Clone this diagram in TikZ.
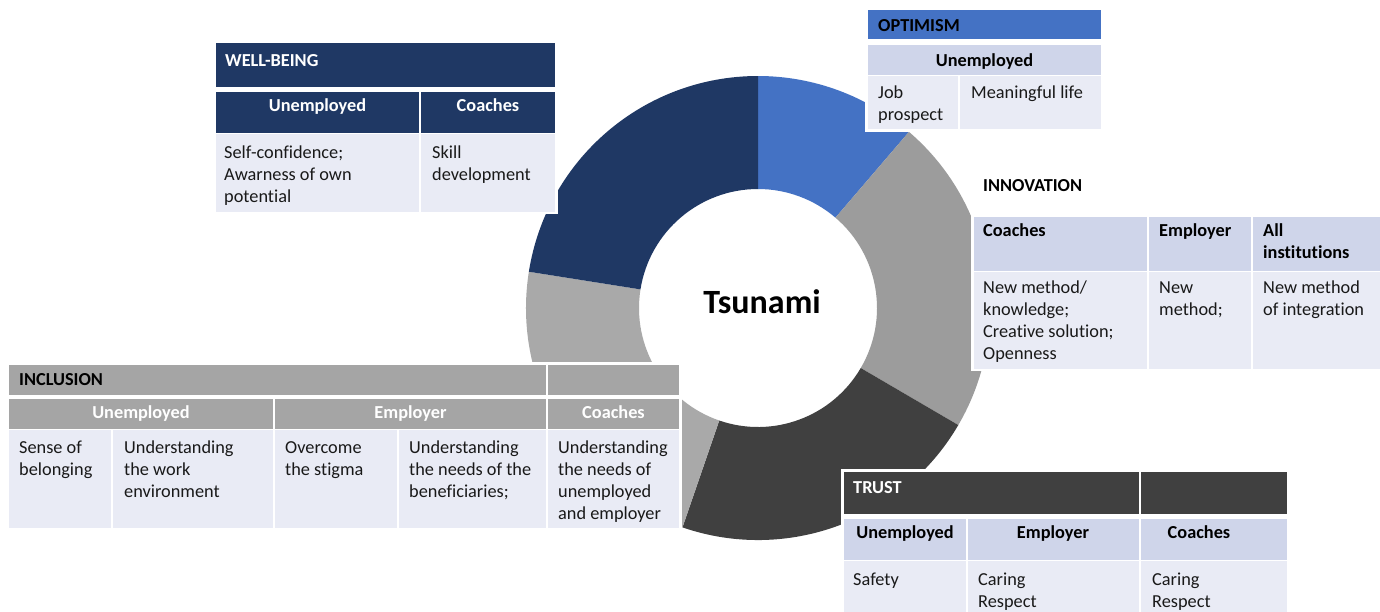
\documentclass[tikz,border=0pt]{standalone}
\usepackage{fontspec}
\setmainfont{Carlito}[Ligatures=NoCommon]
\definecolor{navy}{HTML}{1F3864}
\definecolor{optblue}{HTML}{4472C4}
\definecolor{midgray}{HTML}{9C9C9C}
\definecolor{lightgray}{HTML}{A9A9A9}
\definecolor{darkgray}{HTML}{404040}
\definecolor{incgray}{HTML}{A5A5A5}
\definecolor{hdrlight}{HTML}{CFD5EA}
\definecolor{bodylight}{HTML}{E9EBF5}
% one table cell, leaving a thin white rule around it
\newcommand{\tcell}[5]{\fill[#5] (#1+1,#2+1) rectangle (#3-1,#4-1);}
% one ring sector: start angle, end angle, colour
\newcommand{\ringpart}[3]{\fill[#3] (ctr) ++(#1:232) arc[start angle=#1,end angle=#2,radius=232] -- ++(#2:-113) arc[start angle=#2,end angle=#1,radius=119] -- cycle;}
\begin{document}
\begin{tikzpicture}[x=1pt,y=-1pt,
  every node/.style={inner sep=0pt,font=\fontsize{18.3}{22}\selectfont},
  body/.style={anchor=north west,align=left,text=black!90},
  title/.style={anchor=base west,font=\fontsize{18.3}{22}\selectfont\bfseries},
  colhead/.style={anchor=base,font=\fontsize{18.3}{22}\selectfont\bfseries},
  rowhead/.style={anchor=north west,align=left,font=\fontsize{18.3}{22}\selectfont\bfseries}]
\useasboundingbox (0,0) rectangle (1380,611);
\fill[white] (0,0) rectangle (1380,611);

% ---- ring ----
\coordinate (ctr) at (758,308);
\ringpart{-90}{-49.4}{optblue}
\ringpart{-49.4}{30.3}{midgray}
\ringpart{30.3}{109}{darkgray}
\ringpart{109}{189}{lightgray}
\ringpart{189}{270}{navy}
\node[anchor=base,font=\fontsize{34}{40}\selectfont\bfseries] (tsunami) at (762,313) {Tsunami};

% ---- WELL-BEING ----
\fill[white] (213,41) rectangle (558,214);
\tcell{215}{42}{556}{88}{navy}
\tcell{215}{91}{420}{133.5}{navy}
\tcell{420}{91}{556}{133.5}{navy}
\tcell{215}{132.5}{420}{213}{bodylight}
\tcell{420}{132.5}{556}{213}{bodylight}
\node[title,text=white] (wbT) at (225,66) {WELL-BEING};
\node[colhead,text=white] (wbU) at (317.5,111.7) {Unemployed};
\node[colhead,text=white] (wbC) at (488,111.7) {Coaches};
\node[body] (wbA) at (224,143.1) {\strut Self-confidence;\\Awarness of own\\potential};
\node[body] (wbB) at (432,143.1) {\strut Skill\\development};

% ---- OPTIMISM ----
\fill[white] (865,7) rectangle (1104,132);
\tcell{867}{9}{1102}{40}{optblue}
\tcell{867}{44}{1102}{76}{hdrlight}
\tcell{867}{75}{959}{130}{bodylight}
\tcell{959}{75}{1102}{130}{bodylight}
\node[title,text=black] (opT) at (878,31.7) {OPTIMISM};
\node[colhead,text=black] (opU) at (984.5,66) {Unemployed};
\node[body] (opA) at (878,82.9) {\strut Job\\prospect};
\node[body] (opB) at (971,82.9) {\strut Meaningful life};

% ---- INNOVATION ----
\fill[white] (971,168) rectangle (1380,371);
\tcell{973}{216}{1148}{271.5}{hdrlight}
\tcell{1148}{216}{1252}{271.5}{hdrlight}
\tcell{1252}{216}{1382}{271.5}{hdrlight}
\tcell{973}{270.5}{1148}{370}{bodylight}
\tcell{1148}{270.5}{1252}{370}{bodylight}
\tcell{1252}{270.5}{1382}{370}{bodylight}
\node[title,text=black] (inT) at (983,191.7) {INNOVATION};
\node[rowhead] (inC) at (983,221.3) {\strut Coaches};
\node[rowhead] (inE) at (1159,221.3) {\strut Employer};
\node[rowhead] (inI) at (1263,221.3) {\strut All\\institutions};
\node[body] (inA) at (983,277.9) {\strut New method/\\knowledge;\\Creative solution;\\Openness};
\node[body] (inB) at (1159,277.9) {\strut New\\method;};
\node[body] (inD) at (1263,277.9) {\strut New method\\of integration};

% ---- INCLUSION ----
\fill[white] (6,362) rectangle (682,530);
\tcell{8}{364}{547}{395.5}{incgray}
\tcell{547}{364}{680}{395.5}{incgray}
\tcell{8}{398}{274}{430}{incgray}
\tcell{274}{398}{547}{430}{incgray}
\tcell{547}{398}{680}{430}{incgray}
\tcell{8}{429}{112}{529}{bodylight}
\tcell{112}{429}{274}{529}{bodylight}
\tcell{274}{429}{398}{529}{bodylight}
\tcell{398}{429}{547}{529}{bodylight}
\tcell{547}{429}{680}{529}{bodylight}
\node[title,text=black] (icT) at (19,385) {INCLUSION};
\node[colhead,text=white] (icU) at (141,418.3) {Unemployed};
\node[colhead,text=white] (icE) at (410.5,418.3) {Employer};
\node[colhead,text=white] (icC) at (613.5,418.3) {Coaches};
\node[body] (icA) at (19,438.1) {\strut Sense of\\belonging};
\node[body] (icB) at (124,438.1) {\strut Understanding\\the work\\environment};
\node[body] (icD) at (285,438.1) {\strut Overcome\\the stigma};
\node[body] (icF) at (409,438.1) {\strut Understanding\\the needs of the\\beneficiaries;};
\node[body] (icG) at (558,438.1) {\strut Understanding\\the needs of\\unemployed\\and employer};

% ---- TRUST ----
\fill[white] (841,469) rectangle (1290,611);
\tcell{843}{471}{1140}{514.5}{darkgray}
\tcell{1140}{471}{1288}{514.5}{darkgray}
\tcell{843}{517.5}{967}{561}{hdrlight}
\tcell{967}{517.5}{1140}{561}{hdrlight}
\tcell{1140}{517.5}{1288}{561}{hdrlight}
\tcell{843}{560}{967}{613}{bodylight}
\tcell{967}{560}{1140}{613}{bodylight}
\tcell{1140}{560}{1288}{613}{bodylight}
\node[title,text=white] (trT) at (853,493.3) {TRUST};
\node[colhead,text=black] (trU) at (905,538.3) {Unemployed};
\node[colhead,text=black] (trE) at (1053,538.3) {Employer};
\node[colhead,text=black] (trC) at (1199,538.3) {Coaches};
\node[body] (trA) at (853,569.6) {\strut Safety};
\node[body] (trB) at (978,569.6) {\strut Caring\\Respect};
\node[body] (trD) at (1152,569.6) {\strut Caring\\Respect};
\end{tikzpicture}
\end{document}
